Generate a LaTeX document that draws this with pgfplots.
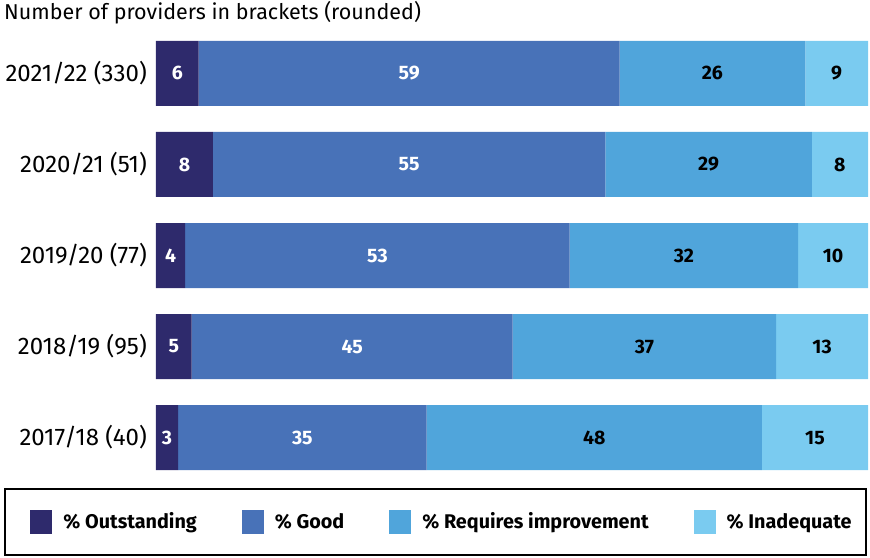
\documentclass[border=0pt]{standalone}
\usepackage{pgfplots}
\pgfplotsset{compat=1.18}
\usepackage{fontspec}
\setmainfont{Fira Sans}
\definecolor{cOut}{RGB}{46,42,108}
\definecolor{cGood}{RGB}{72,114,184}
\definecolor{cReq}{RGB}{80,165,219}
\definecolor{cInad}{RGB}{122,203,240}
\newcommand{\fsT}{\fontsize{21.5pt}{25pt}\selectfont}
\newcommand{\fsY}{\fontsize{24pt}{28pt}\selectfont}
\newcommand{\fsN}{\fontsize{19.5pt}{23pt}\selectfont\bfseries}
\newcommand{\fsL}{\fontsize{19.8pt}{23pt}\selectfont\bfseries}
\begin{document}
\begin{tikzpicture}[x=1pt,y=1pt]
\path[use as bounding box] (0,0) rectangle (870,-557);
\node[anchor=west, inner sep=0pt, font=\fsT] at (4,-13) {Number of providers in brackets (rounded)};
\begin{axis}[
  at={(156pt,-474pt)}, anchor=south west,
  scale only axis, width=712pt, height=437pt,
  xbar stacked, bar width=65pt,
  xmin=0, xmax=100, ymin=-0.4, ymax=4.4,
  axis line style={draw=none}, major tick length=0pt,
  xtick=\empty, ytick={0,1,2,3,4},
  yticklabels={2017/18 (40),2018/19 (95),2019/20 (77),2020/21 (51),2021/22 (330)},
  yticklabel style={font=\fsY, anchor=east, inner xsep=0pt, xshift=-9pt},
  point meta=explicit symbolic,
  nodes near coords={\pgfplotspointmeta},
  every node near coord/.append style={anchor=center, font=\fsN},
  legend columns=4,
  legend style={at={(axis description cs:0.4017,-0.1087)}, anchor=center, draw=none, fill=none, font=\fsL,
    /tikz/every even column/.append style={column sep=43pt},
    /tikz/every odd column/.append style={column sep=9pt}},
]
\addplot[fill=cOut, draw=none, every node near coord/.append style={text=white},
  legend image code/.code={\fill[cOut] (0pt,-12pt) rectangle (22pt,12pt);}]
  coordinates {(3.1,0) [3] (5.0,1) [5] (4.1,2) [4] (8.0,3) [8] (6.0,4) [6]};
\addplot[fill=cGood, draw=none, every node near coord/.append style={text=white},
  legend image code/.code={\fill[cGood] (0pt,-12pt) rectangle (22pt,12pt);}]
  coordinates {(34.9,0) [35] (45.1,1) [45] (54.0,2) [53] (55.1,3) [55] (59.1,4) [59]};
\addplot[fill=cReq, draw=none, every node near coord/.append style={text=black},
  legend image code/.code={\fill[cReq] (0pt,-12pt) rectangle (22pt,12pt);}]
  coordinates {(47.1,0) [48] (37.0,1) [37] (32.1,2) [32] (29.0,3) [29] (26.1,4) [26]};
\addplot[fill=cInad, draw=none, every node near coord/.append style={text=black},
  legend image code/.code={\fill[cInad] (0pt,-12pt) rectangle (22pt,12pt);}]
  coordinates {(14.9,0) [15] (12.9,1) [13] (9.8,2) [10] (7.9,3) [8] (8.8,4) [9]};
\legend{\% Outstanding,\% Good,\% Requires improvement,\% Inadequate}
\end{axis}
\draw[line width=2pt] (5,-489) rectangle (866,-555);
\end{tikzpicture}
\end{document}
